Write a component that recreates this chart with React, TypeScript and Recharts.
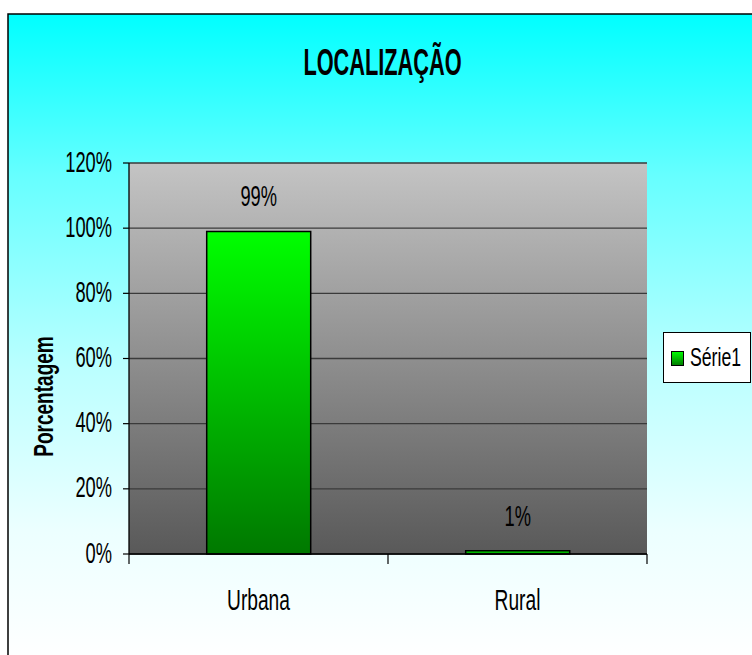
import React from "react";
import { BarChart, Bar, XAxis, YAxis, CartesianGrid, Legend, LabelList } from "recharts";

const CATEGORIES = ["Urbana", "Rural"];
const SERIE1 = [0.99, 0.01];
const Y_TICKS = [0, 0.2, 0.4, 0.6, 0.8, 1.0, 1.2];
const SERIES_NAME = "Série1";
const TITLE = "LOCALIZAÇÃO";
const Y_TITLE = "Porcentagem";

const data = CATEGORIES.map((name, i) => ({ name, value: SERIE1[i] }));

const FONT = "'Liberation Sans', Arial, sans-serif";
const pct = (v: number) => `${Math.round(v * 100)}%`;

interface NarrowTextProps {
  x: number;
  y: number;
  size: number;
  sx: number;
  anchor?: "start" | "middle" | "end";
  bold?: boolean;
  rotate?: number;
  children: React.ReactNode;
}

// the original uses a condensed font stretched vertically, so squeeze Arial-metric text horizontally
function NarrowText({ x, y, size, sx, anchor = "middle", bold = false, rotate = 0, children }: NarrowTextProps) {
  return (
    <text
      transform={`translate(${x},${y}) rotate(${rotate}) scale(${sx},1)`}
      textAnchor={anchor}
      fontFamily={FONT}
      fontSize={size}
      fontWeight={bold ? 700 : 400}
      fill="#000"
    >
      {children}
    </text>
  );
}

function CategoryTick(props: any) {
  const { x, y, payload, index, visibleTicksCount } = props;
  const half = payload?.offset ?? 0;
  const last = index === (visibleTicksCount ?? CATEGORIES.length) - 1;
  return (
    <g>
      <line x1={x - half} x2={x - half} y1={y} y2={y + 10} stroke="#000" strokeWidth={1.2} />
      {last && <line x1={x + half} x2={x + half} y1={y} y2={y + 10} stroke="#000" strokeWidth={1.2} />}
      <NarrowText x={x} y={y + 56} size={30} sx={0.64}>
        {payload.value}
      </NarrowText>
    </g>
  );
}

function ValueTick(props: any) {
  const { x, y, payload } = props;
  return (
    <NarrowText x={x} y={y + 8.5} size={30} sx={0.61} anchor="end">
      {pct(payload.value)}
    </NarrowText>
  );
}

function AxisTitle(props: any) {
  const vb = props.viewBox ?? { x: 0, y: 163, width: 129, height: 391 };
  return (
    <NarrowText x={53} y={vb.y + vb.height / 2 + 38} size={28} sx={0.68} bold rotate={-90}>
      {Y_TITLE}
    </NarrowText>
  );
}

function BarValueLabel(props: any) {
  const { x, y, width, value } = props;
  return (
    <NarrowText x={Number(x) + Number(width) / 2} y={Number(y) - 25} size={30} sx={0.61}>
      {pct(Number(value))}
    </NarrowText>
  );
}

function LegendBox(props: any) {
  const item = props.payload?.[0];
  return (
    <svg width={88} height={51} style={{ display: "block" }}>
      <defs>
        <linearGradient id="legend-swatch" x1="0" y1="0" x2="0" y2="1">
          <stop offset="0%" stopColor="#00ff00" />
          <stop offset="100%" stopColor="#007800" />
        </linearGradient>
      </defs>
      <rect x={0.5} y={0.5} width={87} height={50} fill="#fff" stroke="#000" />
      <rect x={8.5} y={19.5} width={12} height={14} fill="url(#legend-swatch)" stroke="#000" />
      <NarrowText x={27} y={34} size={26} sx={0.68} anchor="start">
        {item?.value ?? SERIES_NAME}
      </NarrowText>
    </svg>
  );
}

export default function App() {
  return (
    <div style={{ position: "absolute", left: 0, top: 0, width: 752, height: 655, overflow: "hidden", background: "#fff" }}>
      <svg width={752} height={655} style={{ position: "absolute", left: 0, top: 0 }}>
        <defs>
          <linearGradient id="chart-bg" gradientUnits="userSpaceOnUse" x1="0" y1="14" x2="0" y2="660">
            <stop offset="0%" stopColor="#00ffff" />
            <stop offset="25%" stopColor="#66ffff" />
            <stop offset="55%" stopColor="#bbffff" />
            <stop offset="80%" stopColor="#ecffff" />
            <stop offset="93%" stopColor="#f8ffff" />
            <stop offset="100%" stopColor="#ffffff" />
          </linearGradient>
        </defs>
        <rect x={8} y={14} width={800} height={700} fill="url(#chart-bg)" stroke="#000" strokeWidth={1.5} />
        <NarrowText x={382.5} y={75} size={37.5} sx={0.58} bold>
          {TITLE}
        </NarrowText>
      </svg>
      <div style={{ position: "absolute", left: 0, top: 0 }}>
        <BarChart
          width={752}
          height={655}
          data={data}
          margin={{ top: 163, right: 105, bottom: 0, left: 0 }}
          barCategoryGap="30%"
        >
          <defs>
            <linearGradient id="plot-bg" x1="0" y1="0" x2="0" y2="1">
              <stop offset="0%" stopColor="#c4c4c4" />
              <stop offset="100%" stopColor="#595959" />
            </linearGradient>
            <linearGradient id="bar-fill" x1="0" y1="0" x2="0" y2="1">
              <stop offset="0%" stopColor="#00ff00" />
              <stop offset="100%" stopColor="#007800" />
            </linearGradient>
          </defs>
          <CartesianGrid vertical={false} fill="url(#plot-bg)" fillOpacity={1} stroke="#3a3a3a" strokeWidth={1.3} />
          <XAxis
            dataKey="name"
            height={101}
            interval={0}
            axisLine={{ stroke: "#000", strokeWidth: 1.3 }}
            tickLine={false}
            tickSize={0}
            tickMargin={0}
            tick={(p: any) => <CategoryTick {...p} />}
          />
          <YAxis
            domain={[0, 1.2]}
            ticks={Y_TICKS}
            width={129}
            interval={0}
            axisLine={{ stroke: "#000", strokeWidth: 1.3 }}
            tickLine={{ stroke: "#000", strokeWidth: 1.2 }}
            tickSize={6}
            tickMargin={11}
            tick={(p: any) => <ValueTick {...p} />}
            label={{ content: (p: any) => <AxisTitle {...p} /> }}
          />
          <YAxis
            yAxisId="frame"
            orientation="right"
            domain={[0, 1.2]}
            width={0}
            tick={false}
            tickLine={false}
            axisLine={{ stroke: "#808080", strokeWidth: 1.5 }}
          />
          <Bar
            dataKey="value"
            name={SERIES_NAME}
            fill="url(#bar-fill)"
            stroke="#000"
            strokeWidth={1.5}
            isAnimationActive={false}
          >
            <LabelList dataKey="value" content={(p: any) => <BarValueLabel {...p} />} />
          </Bar>
          <Legend
            layout="horizontal"
            align="center"
            verticalAlign="middle"
            content={(p: any) => <LegendBox {...p} />}
            wrapperStyle={{ left: 663, top: 332, width: 88, height: 51 }}
          />
        </BarChart>
      </div>
    </div>
  );
}
